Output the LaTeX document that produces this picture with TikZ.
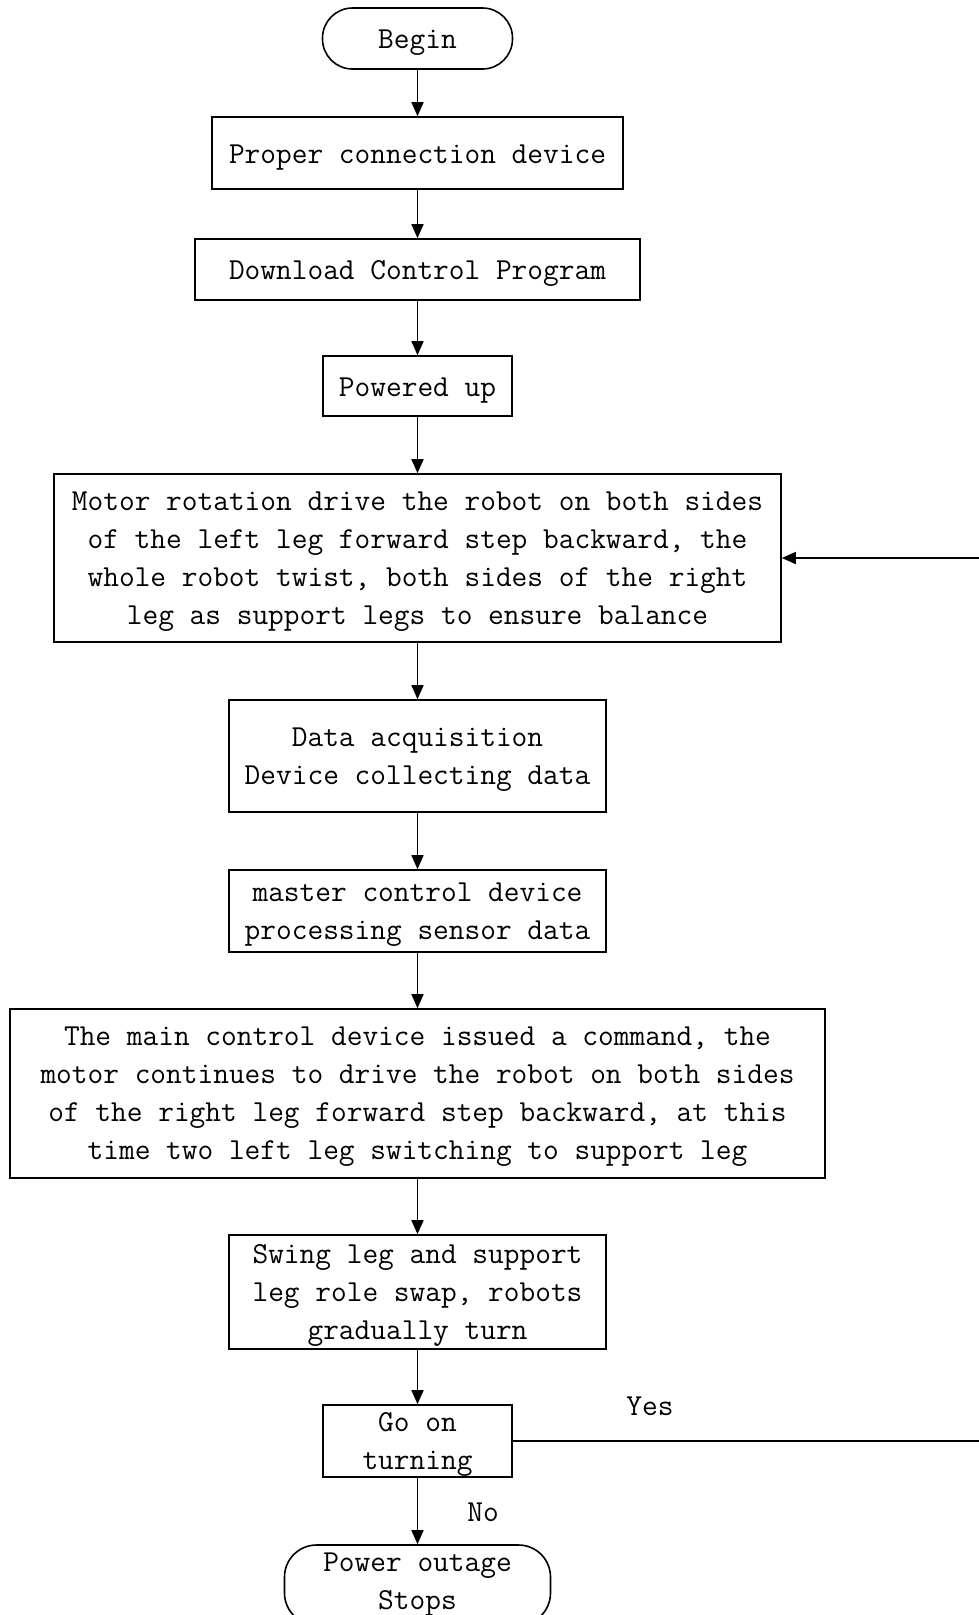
\documentclass[tikz,border=0pt]{standalone}
\usepackage{fontspec}
\usetikzlibrary{arrows.meta}
\newcommand{\flowfont}{\fontsize{30.5}{38}\selectfont\ttfamily}

\begin{document}
\begin{tikzpicture}[x=1pt,y=-1pt,
  box/.style={draw,line width=1.6pt,align=center,inner sep=0pt,font=\flowfont,
    execute at begin node={\rule{0pt}{28pt}},execute at end node={\rule[-8pt]{0pt}{8pt}}},
  lines/.style={box,execute at begin node={\rule{0pt}{\dimexpr38pt*#1-12pt\relax}}},
  term/.style={rounded corners=30pt},
  flow/.style={line width=1.6pt,-{Triangle[length=14pt,width=12pt]}}]
   \useasboundingbox (0,0) rectangle (979,1615);
   \node[box,term,minimum width=190pt,minimum height=61pt] (begin) at (417.5,38.5) {Begin};
   \node[box,minimum width=411pt,minimum height=72pt] (connect) at (417.5,153) {Proper connection device};
   \node[box,minimum width=445pt,minimum height=61pt] (download) at (417.5,269.5) {Download Control Program};
   \node[box,minimum width=189pt,minimum height=60pt] (power) at (417.5,386) {Powered up};
   \node[lines=4,minimum width=727pt,minimum height=168pt] (motor) at (417.5,558) {Motor rotation drive the robot on both sides\\of the left leg forward step backward, the\\whole robot twist, both sides of the right\\leg as support legs to ensure balance};
   \node[lines=2,minimum width=377pt,minimum height=112pt] (acquire) at (417.5,756) {Data acquisition\\Device collecting data};
   \node[lines=2,minimum width=377pt,minimum height=82pt] (master) at (417.5,911) {master control device\\processing sensor data};
   \node[lines=4,minimum width=815pt,minimum height=169pt] (command) at (417.5,1093.5) {The main control device issued a command, the\\motor continues to drive the robot on both sides\\of the right leg forward step backward, at this\\time two left leg switching to support leg};
   \node[lines=3,minimum width=377pt,minimum height=114pt] (swap) at (417.5,1292) {Swing leg and support\\leg role swap, robots\\gradually turn};
   \node[lines=2,minimum width=189pt,minimum height=72pt] (turn) at (417.5,1441) {Go on\\turning};
   \node[box,term,rounded corners=32pt,minimum width=266pt,minimum height=80pt] (stop) at (417.5,1585) {Power outage\\Stops};
   \coordinate (loop) at (1000,1441);
   \draw[flow] (begin) -- (connect);
   \draw[flow] (connect) -- (download);
   \draw[flow] (download) -- (power);
   \draw[flow] (power) -- (motor);
   \draw[flow] (motor) -- (acquire);
   \draw[flow] (acquire) -- (master);
   \draw[flow] (master) -- (command);
   \draw[flow] (command) -- (swap);
   \draw[flow] (swap) -- (turn);
   \draw[flow] (turn) -- (stop);
   \draw[flow] (turn) -- (loop) |- (motor);
   \node[font=\flowfont] (yes) at (650,1406) {Yes};
   \node[font=\flowfont] (no) at (483,1512) {No};
\end{tikzpicture}
\end{document}
